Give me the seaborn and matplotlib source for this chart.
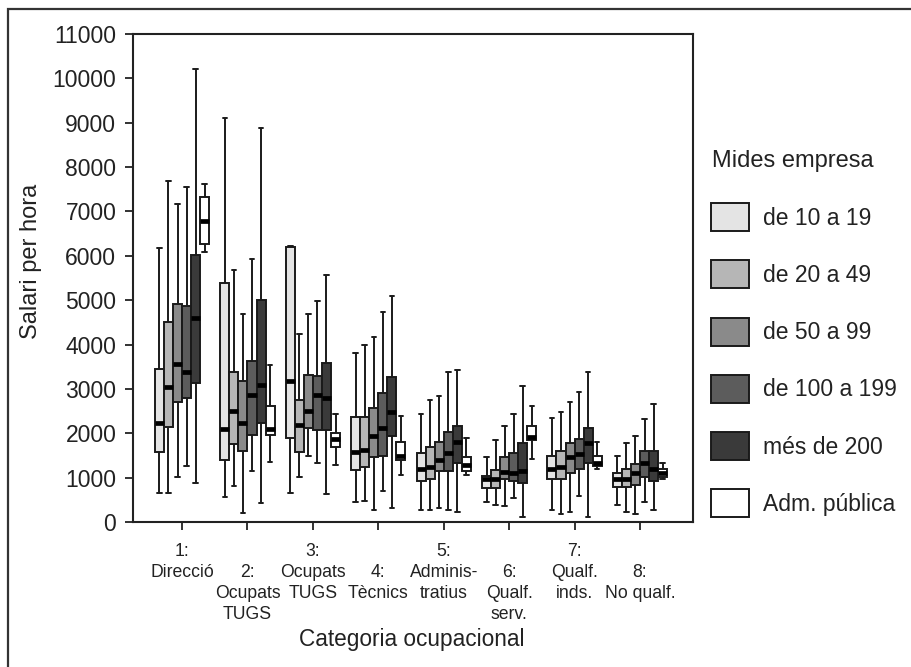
import numpy as np
import pandas as pd
import matplotlib
matplotlib.use("Agg")
import matplotlib.pyplot as plt
import seaborn as sns
from matplotlib.patches import Rectangle

# ---------------- data ----------------
categories = ["1: Direcció", "2: Ocupats TUGS", "3: Ocupats TUGS", "4: Tècnics",
              "5: Administratius", "6: Qualf. serv.", "7: Qualf. inds.", "8: No qualf."]
tick_labels = ["1:\nDirecció", "\n2:\nOcupats\nTUGS", "3:\nOcupats\nTUGS", "\n4:\nTècnics",
               "5:\nAdminis-\ntratius", "\n6:\nQualf.\nserv.", "7:\nQualf.\ninds.", "\n8:\nNo qualf."]
sizes = ["de 10 a 19", "de 20 a 49", "de 50 a 99", "de 100 a 199", "més de 200", "Adm. pública"]

# each tuple: (lower whisker, Q1, median, Q3, upper whisker) per category
s10_19 = [(660, 1570, 2230, 3450, 6180), (570, 1400, 2090, 5380, 9110),
          (660, 1890, 3180, 6200, 6230), (440, 1180, 1580, 2360, 3820),
          (270, 930, 1190, 1550, 2430), (440, 760, 970, 1040, 1460),
          (270, 970, 1190, 1490, 2340), (390, 800, 970, 1100, 1490)]
s20_49 = [(660, 2150, 3040, 4510, 7690), (820, 1760, 2500, 3390, 5670),
          (1010, 1580, 2180, 2750, 4240), (480, 1230, 1620, 2360, 4000),
          (270, 980, 1230, 1680, 2750), (390, 760, 970, 1180, 1850),
          (180, 970, 1230, 1590, 2480), (220, 800, 970, 1190, 1780)]
s50_99 = [(1010, 2710, 3560, 4910, 7170), (200, 1610, 2230, 3180, 4690),
          (1490, 2120, 2500, 3320, 4690), (270, 1460, 1940, 2580, 4180),
          (320, 1160, 1400, 1810, 2840), (350, 980, 1130, 1460, 2170),
          (230, 1100, 1460, 1770, 2710), (180, 830, 1100, 1310, 1940)]
s100_199 = [(1270, 2790, 3390, 4860, 7560), (1140, 1960, 2860, 3620, 5920),
            (1320, 2080, 2860, 3280, 4990), (700, 1490, 2120, 2900, 4740),
            (270, 1160, 1550, 2030, 3370), (530, 930, 1100, 1550, 2430),
            (580, 1190, 1530, 1880, 2930), (440, 1020, 1320, 1590, 2330)]
s200 = [(870, 3140, 4590, 6020, 10210), (430, 2240, 3090, 5000, 8890),
        (620, 2080, 2790, 3580, 5570), (310, 1940, 2480, 3260, 5090),
        (220, 1340, 1810, 2170, 3420), (110, 870, 1160, 1770, 3070),
        (110, 1340, 1790, 2120, 3370), (270, 930, 1190, 1590, 2670)]
adm = [(6090, 6270, 6780, 7320, 7630), (1360, 1960, 2090, 2610, 3550),
       (1280, 1680, 1870, 2000, 2430), (1070, 1400, 1490, 1810, 2390),
       (1050, 1160, 1280, 1460, 1890), (1420, 1850, 1910, 2170, 2620),
       (1190, 1270, 1340, 1490, 1810), (970, 1020, 1100, 1190, 1320)]

colors = ["#e4e4e4", "#b6b6b6", "#8a8a8a", "#5c5c5c", "#3a3a3a", "#ffffff"]

rows = []
for h, stats in zip(sizes, [s10_19, s20_49, s50_99, s100_199, s200, adm]):
    for c, st in zip(categories, stats):
        for v in st:
            rows.append((c, h, v))
df = pd.DataFrame(rows, columns=["cat", "size", "val"])

# ---------------- plotting ----------------
sns.set_style("ticks")
plt.rcParams["font.family"] = ["Liberation Sans", "DejaVu Sans"]
txt = "#222222"
plt.rcParams["text.color"] = txt
plt.rcParams["axes.labelcolor"] = txt
plt.rcParams["xtick.color"] = txt
plt.rcParams["ytick.color"] = txt

W, H = 912, 667
fig = plt.figure(figsize=(W / 100, H / 100), dpi=100)
ax = fig.add_axes([133 / W, 1 - 522 / H, (693 - 133) / W, (522 - 34) / H])

sns.boxplot(data=df, x="cat", y="val", hue="size", order=categories, hue_order=sizes,
            palette=colors, saturation=1, whis=np.inf, width=0.83, gap=0,
            linecolor="#1a1a1a", linewidth=1.4, showfliers=False,
            medianprops=dict(linewidth=3.4, color="black"), ax=ax)

ax.set_xlim(-0.75, 7.81)
ax.set_ylim(0, 11000)
ax.set_yticks(np.arange(0, 11001, 1000))
ax.set_xticks(range(len(categories)))
ax.set_xticklabels(tick_labels, fontsize=12.7, linespacing=1.3)
ax.tick_params(axis="y", labelsize=16.5, length=6, width=1.3, pad=6)
ax.tick_params(axis="x", length=6, width=1.3, pad=9)
for s in ax.spines.values():
    s.set_visible(True)
    s.set_linewidth(1.5)
    s.set_color("#222222")

ax.set_ylabel("Salari per hora", fontsize=17)
ax.yaxis.set_label_coords(-0.162, 0.535)
ax.set_xlabel("Categoria ocupacional", fontsize=16.3)
ax.xaxis.set_label_coords(0.498, -0.2166)

handles, labels = ax.get_legend_handles_labels()
if ax.get_legend() is not None:
    ax.get_legend().remove()
fig.text(712 / W, 1 - 161 / H, "Mides empresa", fontsize=17, ha="left", va="center")
fig.legend(handles, labels, loc="upper left",
           bbox_to_anchor=(711 / W, 1 - 203 / H), frameon=False,
           fontsize=16.5, handlelength=1.66, handleheight=1.5,
           labelspacing=1.28, handletextpad=0.6, borderpad=0, borderaxespad=0)

# outer frame (cut off at the right and bottom edges)
fig.add_artist(Rectangle((8 / W, -0.5), 2, 1.5 - 9 / H, transform=fig.transFigure,
                         fill=False, lw=1.6, ec="#333333"))

fig.savefig("out.png", dpi=100)
